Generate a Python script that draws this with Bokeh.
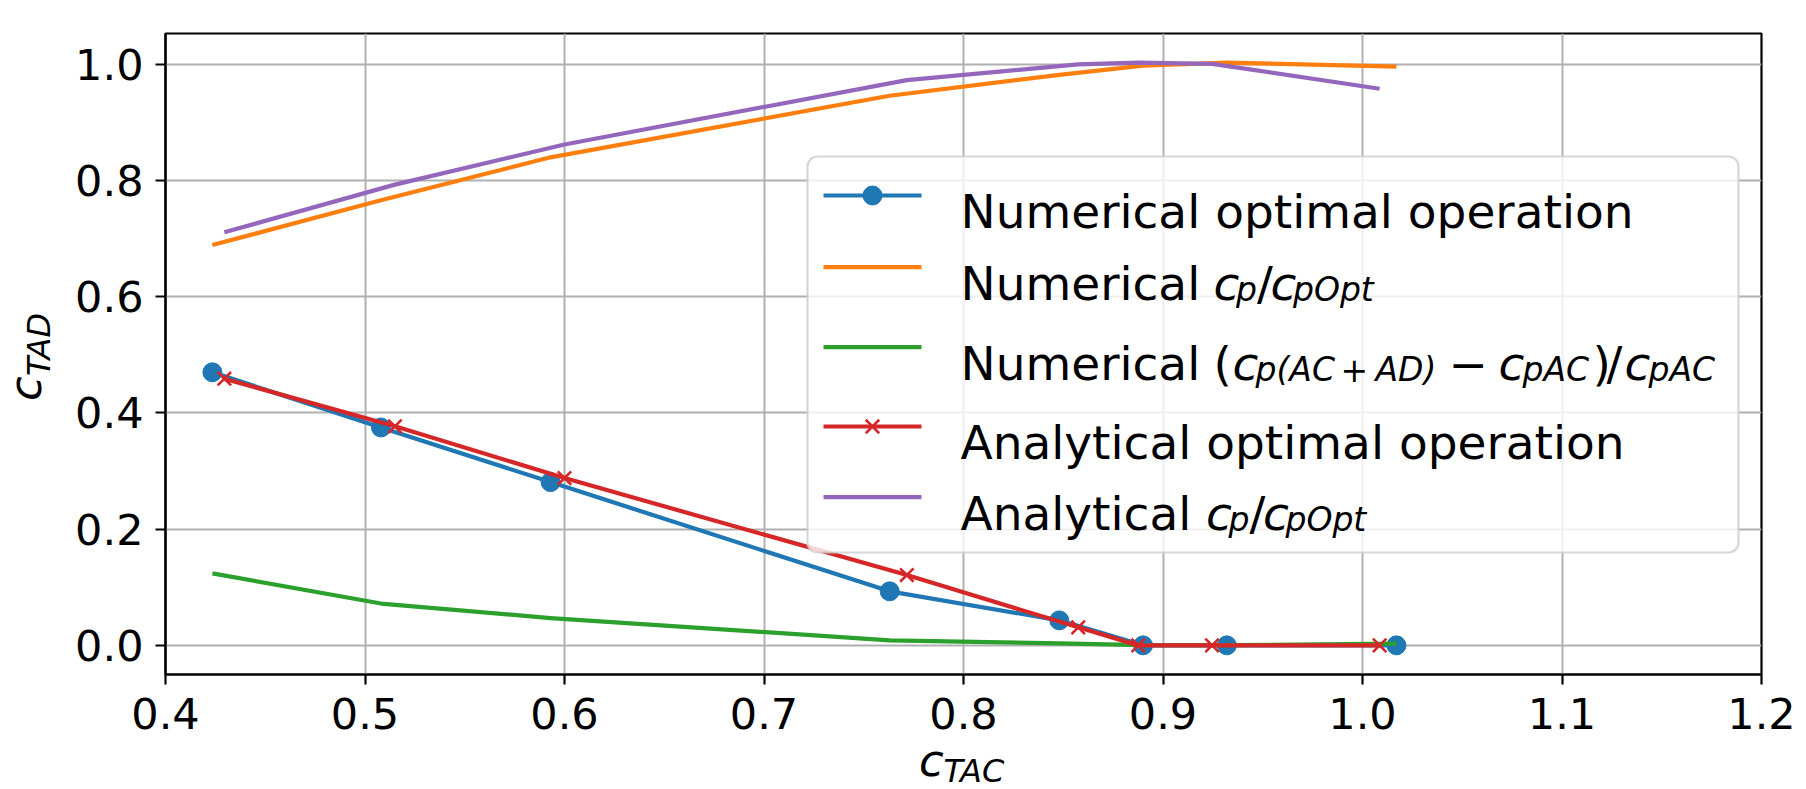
import math
from bokeh.plotting import figure
from bokeh.models import (Range1d, FixedTicker, NumeralTickFormatter, Label,
                          BoxAnnotation, Div)
from bokeh.layouts import row, column
from bokeh.embed import file_html
from bokeh.resources import INLINE

# ---------------- data ----------------
num_x = [0.4235, 0.508, 0.593, 0.763, 0.848, 0.890, 0.932, 1.017]
num_opt = [0.470, 0.375, 0.281, 0.093, 0.043, 0.0, 0.0, 0.0]
num_cp_ratio = [0.689, 0.766, 0.840, 0.946, 0.982, 0.998, 1.003, 0.996]
num_gain = [0.124, 0.072, 0.047, 0.0086, 0.0034, 0.0003, 0.0003, 0.003]

ana_x = [0.4295, 0.515, 0.600, 0.7716, 0.8575, 0.8876, 0.9246, 1.0086]
ana_opt = [0.459, 0.377, 0.288, 0.121, 0.031, 0.0, 0.0, 0.0]
ana_cp_ratio = [0.711, 0.793, 0.862, 0.973, 1.000, 1.003, 1.001, 0.958]

x_ticks = [0.4, 0.5, 0.6, 0.7, 0.8, 0.9, 1.0, 1.1, 1.2]
y_ticks = [0.0, 0.2, 0.4, 0.6, 0.8, 1.0]

BLUE, ORANGE, GREEN, RED, PURPLE = "#1f77b4", "#ff7f0e", "#2ca02c", "#d62728", "#9467bd"

# ---------------- layout (page pixels; page has no margin) ----------------
PAGE_W, PAGE_H = 1806, 789
YLAB_W = 60          # strip on the left for the y label
XLAB_H = 41          # strip at the bottom for the x label
PW, PH = PAGE_W - YLAB_W, PAGE_H - XLAB_H
FL, FR, FT, FB = 165, 1761, 33, 674     # frame edges on the page

all_y = num_opt + num_cp_ratio + num_gain + ana_opt + ana_cp_ratio
ymin, ymax = min(all_y), max(all_y)
pad = 0.05 * (ymax - ymin)
x0, x1 = x_ticks[0], x_ticks[-1]
y0, y1 = ymin - pad, ymax + pad


def dx(X):
    return x0 + (X - FL) / (FR - FL) * (x1 - x0)


def dy(Y):
    return y1 - (Y - FT) / (FB - FT) * (y1 - y0)


p = figure(width=PW, height=PH, output_backend="svg", toolbar_location=None,
           x_range=Range1d(x0, x1), y_range=Range1d(y0, y1),
           min_border_left=FL - YLAB_W, min_border_right=PW - (FR - YLAB_W),
           min_border_top=FT, min_border_bottom=PH - FB)
p.background_fill_color = "white"
p.border_fill_color = "white"
p.outline_line_color = "black"
p.outline_line_width = 2.2

for ax in (p.xaxis[0], p.yaxis[0]):
    ax.axis_line_color = "black"
    ax.axis_line_width = 2.2
    ax.major_tick_line_color = "black"
    ax.major_tick_line_width = 2.2
    ax.major_tick_out = 10
    ax.major_tick_in = 0
    ax.minor_tick_line_color = None
    ax.major_label_text_font = "DejaVu Sans"
    ax.major_label_text_font_size = "43px"
    ax.major_label_text_color = "black"
    ax.formatter = NumeralTickFormatter(format="0.0")
p.xaxis[0].ticker = FixedTicker(ticks=x_ticks)
p.yaxis[0].ticker = FixedTicker(ticks=y_ticks)
p.xaxis[0].major_label_standoff = 13
p.yaxis[0].major_label_standoff = 12

for g in (p.xgrid[0], p.ygrid[0]):
    g.grid_line_color = "#b0b0b0"
    g.grid_line_width = 2.0

LW = 4.2
MK = 19
p.line(num_x, num_opt, line_color=BLUE, line_width=LW, line_join="round")
p.scatter(num_x, num_opt, marker="circle", size=MK, fill_color=BLUE, line_color=BLUE)
p.line(num_x, num_cp_ratio, line_color=ORANGE, line_width=LW, line_join="round")
p.line(num_x, num_gain, line_color=GREEN, line_width=LW, line_join="round")
p.line(ana_x, ana_opt, line_color=RED, line_width=LW, line_join="round")
p.scatter(ana_x, ana_opt, marker="x", size=MK, line_color=RED, line_width=2.6)
p.line(ana_x, ana_cp_ratio, line_color=PURPLE, line_width=LW, line_join="round")

# ---------------- legend (drawn by hand for the math labels) ----------------
box = BoxAnnotation(left=dx(807), right=dx(1738), top=dy(156), bottom=dy(552),
                    fill_color="white", fill_alpha=0.8,
                    line_color="#cccccc", line_alpha=0.8, line_width=2.2,
                    border_radius=10)
p.add_layout(box)


def txt(X, Y, s, size, italic=False):
    p.add_layout(Label(x=dx(X), y=dy(Y), text=s, text_font="DejaVu Sans",
                       text_font_size=f"{size}px",
                       text_font_style="italic" if italic else "normal",
                       text_color="black", text_align="left",
                       text_baseline="alphabetic"))


SW_L, SW_R = 823, 921
swatches = [(195, BLUE, "circle"), (266.7, ORANGE, None), (346.7, GREEN, None),
            (426, RED, "x"), (496.7, PURPLE, None)]
for (Y, col, mk) in swatches:
    p.line([dx(SW_L), dx(SW_R)], [dy(Y), dy(Y)], line_color=col, line_width=LW, level="overlay")
    if mk == "circle":
        p.scatter([dx((SW_L + SW_R) / 2)], [dy(Y)], marker="circle", size=MK,
                  fill_color=col, line_color=col, level="overlay")
    elif mk == "x":
        p.scatter([dx((SW_L + SW_R) / 2)], [dy(Y)], marker="x", size=MK,
                  line_color=col, line_width=2.6, level="overlay")

MS, SS, DROP = 47, 33, 6
TX = 960
# row 1
txt(TX, 210.7, "Numerical optimal operation", MS)
# row 2
b = 283.3
txt(TX, b, "Numerical", MS)
txt(1213, b, "c", MS, True)
txt(1235.5, b + DROP, "p", SS, True)
txt(1256.5, b, "/", MS)
txt(1270, b, "c", MS, True)
txt(1292.5, b + DROP, "pOpt", SS, True)
# row 3
b = 363.3
txt(TX, b, "Numerical", MS)
txt(1213, b, "(", MS)
txt(1232, b, "c", MS, True)
txt(1255, b + DROP, "p(AC", SS, True)
txt(1340, b + DROP, "+", SS)
txt(1375, b + DROP, "AD)", SS, True)
txt(1448, b, "\u2212", MS)
txt(1498, b, "c", MS, True)
txt(1522, b + DROP, "pAC", SS, True)
txt(1592, b, ")", MS)
txt(1606, b, "/", MS)
txt(1624, b, "c", MS, True)
txt(1648, b + DROP, "pAC", SS, True)
# row 4
txt(TX, 441.7, "Analytical optimal operation", MS)
# row 5
b = 513.3
txt(TX, b, "Analytical", MS)
txt(1205.5, b, "c", MS, True)
txt(1228, b + DROP, "p", SS, True)
txt(1249, b, "/", MS)
txt(1262.5, b, "c", MS, True)
txt(1285, b + DROP, "pOpt", SS, True)

# ---------------- axis labels (HTML text, c with subscript) ----------------
BASE = 0.346   # baseline offset (em) of a DejaVu Sans line box with line-height 0


def piece(left, top, s, size, rotate=False):
    tr = "transform:rotate(-90deg);transform-origin:0 0;" if rotate else ""
    return (f'<div style="position:absolute;left:{left:.1f}px;top:{top:.1f}px;'
            f'line-height:0;white-space:nowrap;font-family:\'DejaVu Sans\';'
            f'font-style:italic;font-size:{size}px;color:black;{tr}">{s}</div>')


LS, LSS = 45, 32
# y label: "c" baseline at page x=42, starts at page y=401; subscript lowered
ylab_html = ('<div style="position:relative;width:%dpx;height:%dpx;">' % (YLAB_W, PAGE_H)
             + piece(42 - BASE * LS, 401, "c", LS, True)
             + piece(50.5 - BASE * LSS, 376, "TAD", LSS, True)
             + '</div>')
# x label: "c" at page x=919, baseline y=777; subscript baseline y=782
xlab_html = ('<div style="position:relative;width:%dpx;height:%dpx;">' % (PW, XLAB_H)
             + piece(919 - YLAB_W, 777 - PH - BASE * LS, "c", LS)
             + piece(943.5 - YLAB_W, 782 - PH - BASE * LSS, "TAC", LSS)
             + '</div>')

ydiv = Div(text=ylab_html, width=YLAB_W, height=PAGE_H, margin=0)
xdiv = Div(text=xlab_html, width=PW, height=XLAB_H, margin=0)

layout = row(ydiv, column(p, xdiv, spacing=0), spacing=0)

open("out.html", "w").write(file_html(layout, INLINE))
